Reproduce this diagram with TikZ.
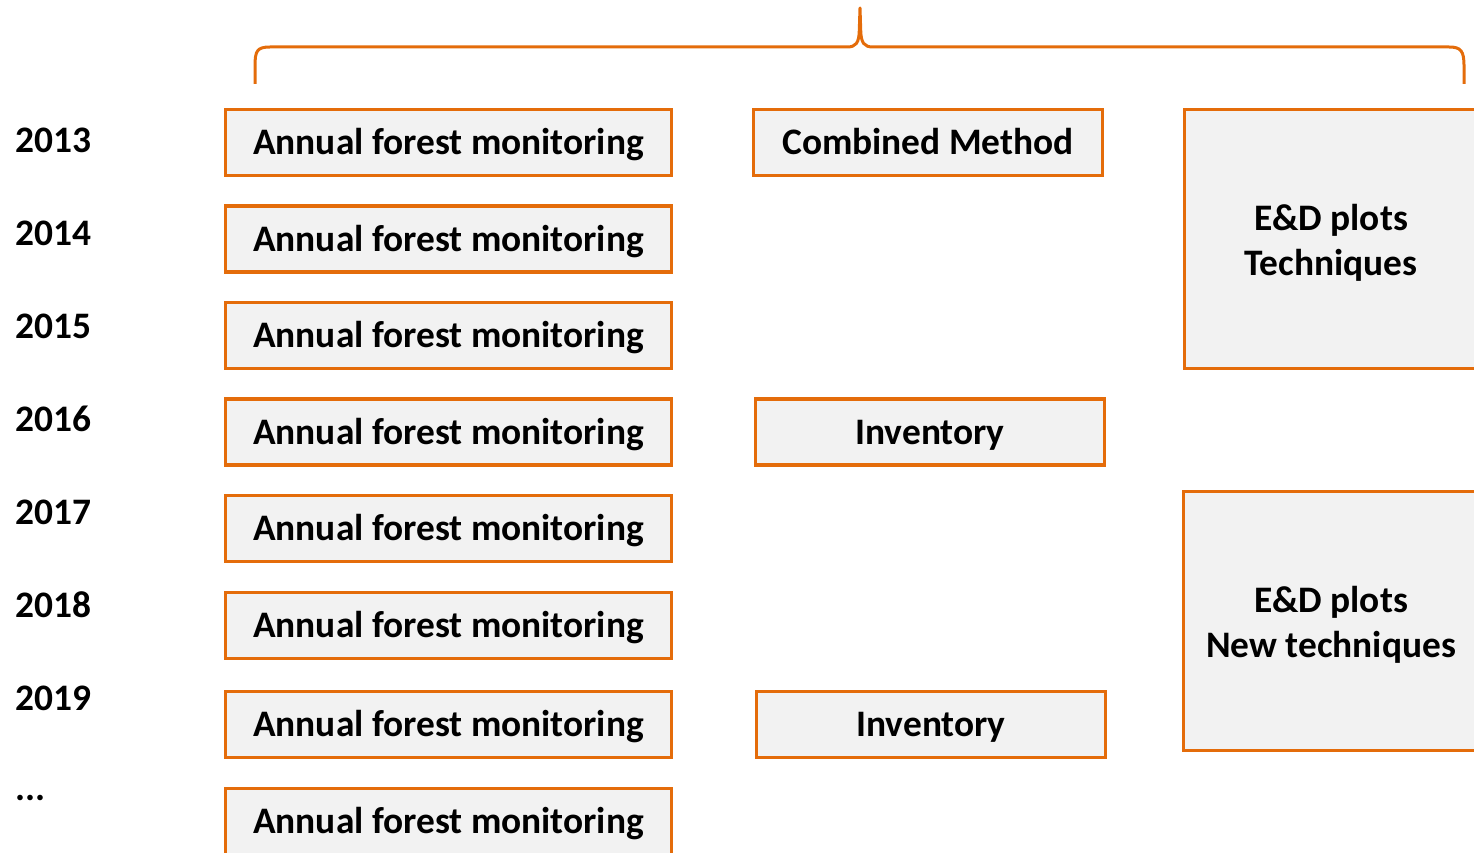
\documentclass[tikz,border=0pt]{standalone}
\usepackage{fontspec}
\setmainfont{Carlito}
\definecolor{accentorange}{HTML}{E46C0A}
\definecolor{boxgray}{HTML}{F2F2F2}
% invisible strut that lowers the first line of a two-line panel
\newcommand{\toplift}{\rule{0pt}{34pt}}
\begin{document}
\begin{tikzpicture}[x=1pt,y=-1pt,
  every node/.style={font=\bfseries\fontsize{37.4}{45}\selectfont, inner sep=0pt},
  panel/.style={draw=accentorange, fill=boxgray, line width=3.2pt,
    text height=24pt, text depth=0pt, minimum height=66pt},
  annualbox/.style={panel, minimum width=446pt},
  sidebox/.style={panel, minimum width=349pt},
  tallbox/.style={draw=accentorange, fill=boxgray, line width=3.2pt,
    align=center, minimum height=259pt},
  yearlabel/.style={anchor=west, text height=24pt, text depth=0pt}]
\useasboundingbox (0,0) rectangle (1474,853);
\clip (0,0) rectangle (1474,853);

% years
\node[yearlabel] (y13) at (15,141) {2013};
\node[yearlabel] (y14) at (15,233) {2014};
\node[yearlabel] (y15) at (15,326) {2015};
\node[yearlabel] (y16) at (15,419) {2016};
\node[yearlabel] (y17) at (15,512) {2017};
\node[yearlabel] (y18) at (15,605) {2018};
\node[yearlabel] (y19) at (15,698) {2019};
\node[yearlabel] (ymore) at (15,788) {...};

% annual monitoring column
\node[annualbox] (a1) at (448.5,142.5) {Annual forest monitoring};
\node[annualbox] (a2) at (448.5,239)   {Annual forest monitoring};
\node[annualbox] (a3) at (448.5,335.5) {Annual forest monitoring};
\node[annualbox] (a4) at (448.5,432)   {Annual forest monitoring};
\node[annualbox] (a5) at (448.5,528.5) {Annual forest monitoring};
\node[annualbox] (a6) at (448.5,625.5) {Annual forest monitoring};
\node[annualbox] (a7) at (448.5,724.5) {Annual forest monitoring};
\node[annualbox] (a8) at (448.5,821.5) {Annual forest monitoring};

% method column
\node[sidebox] (cm)   at (928,142.5) {Combined Method};
\node[sidebox] (inv1) at (930,432)   {Inventory};
\node[sidebox] (inv2) at (931,724.5) {Inventory};

% plot columns
\node[tallbox, minimum width=293pt] (ed1) at (1331,239) {\toplift E\&D plots\\Techniques};
\node[tallbox, minimum width=295pt] (ed2) at (1331,621) {\toplift E\&D plots\\New techniques};

% brace over all columns
\draw[accentorange, line width=3pt, line join=round]
  (255,84) -- (255,66) .. controls (255,51) and (257,47) .. (270,47)
  -- (847,47) .. controls (856,47) and (859,43) .. (859.3,30) -- (860,8)
  -- (860.7,30) .. controls (861,43) and (864,47) .. (873,47)
  -- (1449,47) .. controls (1461,47) and (1464,51) .. (1464,66) -- (1464,84);
\end{tikzpicture}
\end{document}
